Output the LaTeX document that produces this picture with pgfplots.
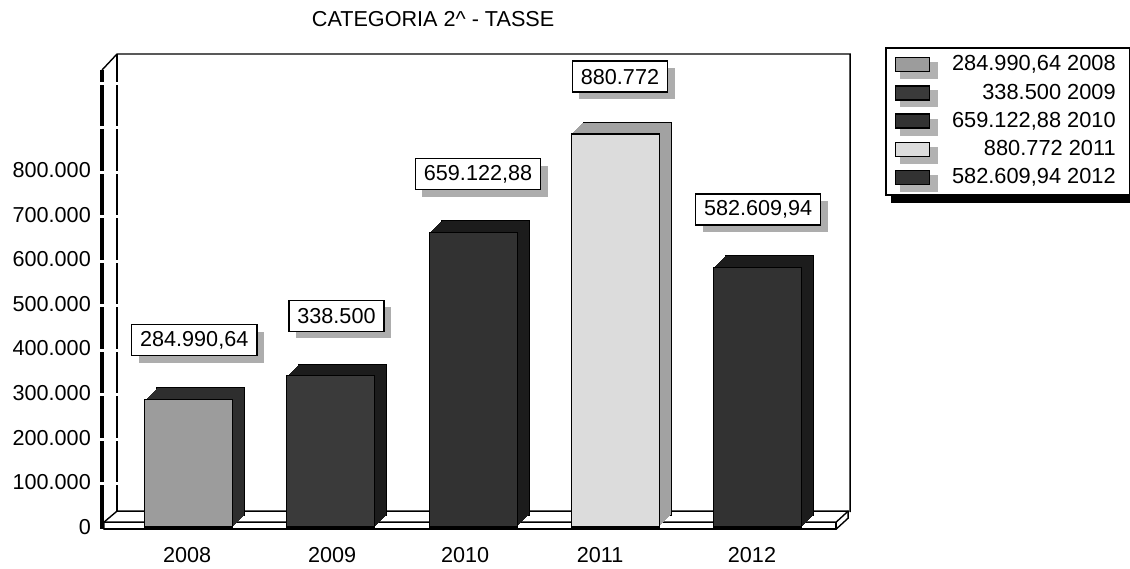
\documentclass[border=0pt]{standalone}
\usepackage{pgfplots}
\pgfplotsset{compat=1.18}
\usepackage{fontspec}
\setmainfont{Liberation Sans}
\usetikzlibrary{shadows}

\definecolor{c08}{HTML}{9C9C9C}
\definecolor{d08}{HTML}{2E2E2E}
\definecolor{c09}{HTML}{3A3A3A}
\definecolor{cdark}{HTML}{323232}
\definecolor{ddark}{HTML}{1C1C1C}
\definecolor{c11}{HTML}{DCDCDC}
\definecolor{d11}{HTML}{A2A2A2}

\pgfplotsset{bar3d/.style={bar width=1.76cm, bar shift=0pt}}
\tikzset{vlab/.style={draw=black, line width=0.9pt, fill=white, inner xsep=0.17cm,
    minimum height=0.62cm,
    drop shadow={shadow xshift=0.14cm, shadow yshift=-0.14cm, fill=black!32, opacity=1}}}

% depth of a bar: 12 copies pushed back and up, 1px each
\newcommand{\depthbar}[3]{%
  \addplot[bar3d, forget plot, fill=#3, draw=black, line width=0.5pt,
    xshift=12*0.02cm, yshift=12*0.02cm] coordinates {(#1,#2)};
  \pgfplotsinvokeforeach{11,10,...,1}{%
    \addplot[bar3d, forget plot, fill=#3, draw=none,
      xshift=##1*0.02cm, yshift=##1*0.02cm] coordinates {(#1,#2)};
  }%
}

\begin{document}
\begin{tikzpicture}[font=\fontsize{12.3}{14}\selectfont]
\path[use as bounding box] (0,0) rectangle (22.6cm,11.36cm);

% walls, floor and legend shadow, in pixel units of the reference
\begin{scope}[x=0.02cm, y=-0.02cm, yshift=11.36cm]
  \node at (433,19) {CATEGORIA 2\textasciicircum{} - TASSE};
  \fill[black] (891,60) rectangle (1130,203);
  \draw[line width=0.8pt] (102,70) -- (117,54) -- (850,54) -- (850,512);
  \draw[line width=0.6pt] (117,54) -- (117,514);
  \draw[line width=1.8pt] (102,70) -- (102,529);
  \foreach \yy in {83,127,172,216,261,305,350,394,439,483} {
    \fill[white] (99,\yy-1.5) rectangle (105,\yy+1.5);
    \fill[white] (115,\yy-1.5) rectangle (119,\yy+1.5);
  }
  \draw[line width=0.8pt, fill=white] (104,529) -- (836,529) -- (848,518)
     -- (848,511) -- (117,511) -- (104,522) -- cycle;
  \draw[line width=0.8pt] (104,522) -- (836,522) -- (848,511);
  \draw[line width=0.8pt] (836,522) -- (836,529);
  \draw[line width=1.4pt] (104,529) -- (836,529);
\end{scope}

\begin{axis}[
    at={(2.34cm,0.82cm)}, anchor=south west,
    scale only axis,
    width=14.66cm, height=9.46cm,
    xmin=-0.503, xmax=4.65,
    ymin=0, ymax=1060000,
    clip=false,
    ybar,
    axis line style={draw=none},
    major tick length=0pt,
    ytick={0,100000,...,800000},
    scaled y ticks=false,
    yticklabel={\pgfmathprintnumber[fixed,precision=0,1000 sep={.},assume math mode=true]{\tick}},
    yticklabel style={xshift=-0.4cm},
    xtick={-0.01,1.009,1.944,2.893,3.961},
    xticklabels={2008,2009,2010,2011,2012},
    xticklabel style={yshift=-0.28cm},
    legend image code/.code={%
      \fill[black!30] (0.1cm,-0.28cm) rectangle (0.84cm,0.04cm);
      \draw[#1, line width=0.8pt] (0cm,-0.14cm) rectangle (0.68cm,0.14cm);},
    legend style={at={(1.0477,1.015)}, anchor=north west,
      draw=black, line width=1pt, fill=white,
      font=\fontsize{12.4}{14}\selectfont,
      inner xsep=0.18cm, inner ysep=0.06cm, row sep=0pt,
      nodes={inner sep=0.1cm, text height=0.3cm, text depth=0.05cm},
      /tikz/every odd column/.append style={column sep=0.18cm}},
    legend cell align=right,
  ]
  \depthbar{0}{284990.64}{d08}
  \addplot[bar3d, fill=c08, draw=black, line width=0.6pt] coordinates {(0,284990.64)};
  \depthbar{1}{338500}{ddark}
  \addplot[bar3d, fill=c09, draw=black, line width=0.6pt] coordinates {(1,338500)};
  \depthbar{2}{659122.88}{ddark}
  \addplot[bar3d, fill=cdark, draw=black, line width=0.6pt] coordinates {(2,659122.88)};
  \depthbar{3}{880772}{d11}
  \addplot[bar3d, fill=c11, draw=black, line width=0.6pt] coordinates {(3,880772)};
  \depthbar{4}{582609.94}{ddark}
  \addplot[bar3d, fill=cdark, draw=black, line width=0.6pt] coordinates {(4,582609.94)};
  \legend{{284.990,64 2008}, {338.500 2009}, {659.122,88 2010}, {880.772 2011}, {582.609,94 2012}}

  \node[vlab] at (axis cs:0.04,419000) {284.990,64};
  \node[vlab] at (axis cs:1.04,473000) {338.500};
  \node[vlab] at (axis cs:2.035,791000) {659.122,88};
  \node[vlab] at (axis cs:3.033,1009000) {880.772};
  \node[vlab] at (axis cs:4.004,711000) {582.609,94};
\end{axis}
\end{tikzpicture}
\end{document}
